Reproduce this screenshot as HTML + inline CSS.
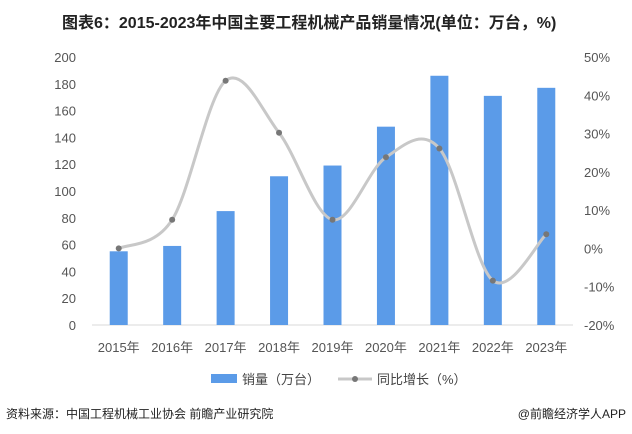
<!DOCTYPE html>
<html><head><meta charset="utf-8"><style>
body{margin:0;background:#fff;font-family:"Liberation Sans","Noto Sans CJK SC",sans-serif;}
#wrap{position:relative;width:632px;height:434px;overflow:hidden;background:#fff}
.t{position:absolute;white-space:nowrap}
</style></head><body>
<div id="wrap">
<div class="t" style="left:62px;top:9px;font-size:16px;font-weight:bold;color:#222">图表6：2015-2023年中国主要工程机械产品销量情况(单位：万台，%)</div>
<svg id="c" width="632" height="434" style="position:absolute;left:0;top:0"></svg>
<div class="t" style="left:6px;top:405px;font-size:12px;color:#222">资料来源：中国工程机械工业协会 前瞻产业研究院</div>
<div class="t" style="right:6px;top:405px;font-size:12px;color:#222">@前瞻经济学人APP</div>
</div>
<script>
const categories=["2015年","2016年","2017年","2018年","2019年","2020年","2021年","2022年","2023年"];
const salesValues=[55,59,85,111,119,148,186,171,177];
const growthValues=[0,7.5,43.8,30.2,7.5,23.8,26.1,-8.4,3.7];
const leftTicks=[0,20,40,60,80,100,120,140,160,180,200];
const rightTicks=[-20,-10,0,10,20,30,40,50];
const NS="http://www.w3.org/2000/svg";
const svg=document.getElementById('c');
const yTop=57,yBot=325,x0=92,x1=573;
const yL=v=>yBot-(v/200)*(yBot-yTop);
const yR=v=>yBot-((v+20)/70)*(yBot-yTop);
const step=(x1-x0)/categories.length;
const xC=i=>x0+step*(i+0.5);
function mk(tag,attrs){const e=document.createElementNS(NS,tag);for(const k in attrs)e.setAttribute(k,attrs[k]);svg.appendChild(e);return e;}
let ax=mk('line',{x1:x0,x2:x1,y1:yBot,y2:yBot,stroke:'#d9d9d9'});


leftTicks.forEach(v=>{const t=mk('text',{x:76,y:yL(v)+5,'text-anchor':'end','font-size':13,fill:'#555'});t.textContent=v;

});
rightTicks.forEach(v=>{const t=mk('text',{x:584,y:yR(v)+5,'text-anchor':'start','font-size':13,fill:'#555'});t.textContent=v+'%';

});
categories.forEach((c,i)=>{
const h=yBot-yL(salesValues[i]);
const r=mk('rect',{x:xC(i)-9,y:yL(salesValues[i]),width:18,height:h,fill:'#5b9be8'});


const t=mk('text',{x:xC(i),y:352,'text-anchor':'middle','font-size':13,fill:'#555'});t.textContent=c;


});
const pts=growthValues.map((v,i)=>[xC(i),yR(v)]);
let d='M'+pts[0][0]+','+pts[0][1];
for(let i=0;i<pts.length-1;i++){const p0=pts[Math.max(0,i-1)],p1=pts[i],p2=pts[i+1],p3=pts[Math.min(pts.length-1,i+2)];
d+=' C'+(p1[0]+(p2[0]-p0[0])/6)+','+(p1[1]+(p2[1]-p0[1])/6)+' '+(p2[0]-(p3[0]-p1[0])/6)+','+(p2[1]-(p3[1]-p1[1])/6)+' '+p2[0]+','+p2[1];}
const ln=mk('path',{d:d,fill:'none',stroke:'#c8c8c8','stroke-width':3});


pts.forEach((p,i)=>{const c=mk('circle',{cx:p[0],cy:p[1],r:3,fill:'#777'});

});
const lb=mk('rect',{x:211,y:374,width:26,height:9,fill:'#5b9be8'});


const lt=mk('text',{x:242,y:384,'font-size':13,fill:'#444'});lt.textContent='销量（万台）';


const ll=mk('line',{x1:338,x2:372,y1:379,y2:379,stroke:'#c8c8c8','stroke-width':3});


const lc=mk('circle',{cx:355,cy:379,r:3,fill:'#777'});


const lt2=mk('text',{x:377,y:384,'font-size':13,fill:'#444'});lt2.textContent='同比增长（%）';


</script>
</body></html>
